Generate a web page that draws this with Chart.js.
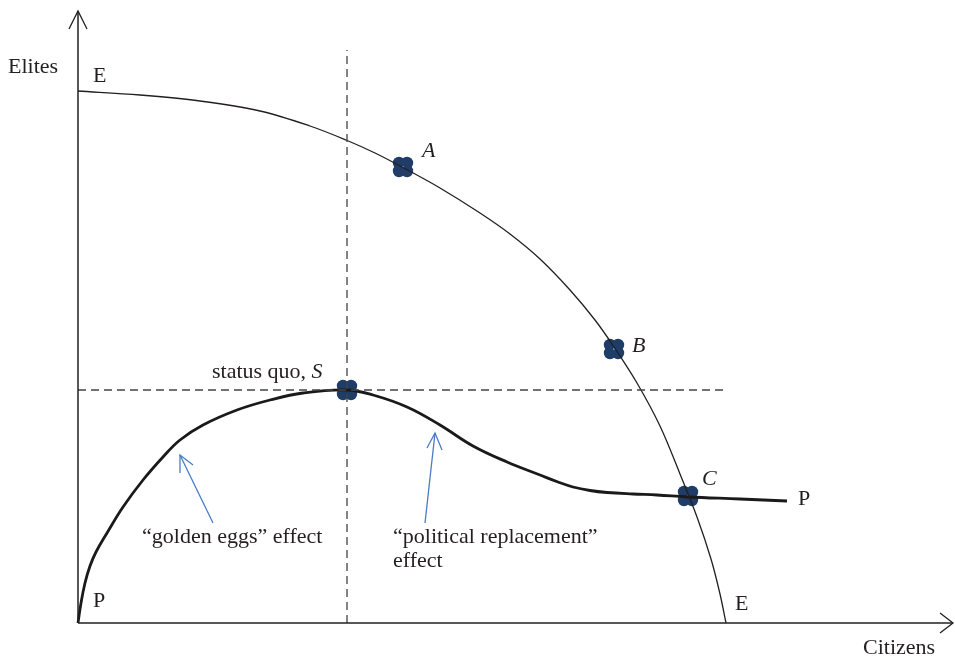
<!DOCTYPE html>
<html>
<head>
<meta charset="utf-8">
<script src="https://cdn.jsdelivr.net/npm/chart.js@4.4.1/dist/chart.umd.min.js"></script>
<style>
  html, body { margin: 0; padding: 0; background: #fff; }
  canvas { display: block; }
</style>
</head>
<body>
<canvas id="chart" width="955" height="656"></canvas>
<script>
// ─── Donnees (unites arbitraires : citoyens en x, elites en y) ───
// Frontiere EE
const frontierX = [0, 62, 122, 182, 232, 268, 297, 324, 362, 402, 432, 462, 492,
                   517, 536, 559, 582, 602, 619, 633, 642, 648];
const frontierY = [532, 528, 522, 512, 497, 483, 470, 456, 435, 410, 389, 364, 333,
                   303, 276, 240, 197, 149, 106, 64, 29, 0];

// Courbe PP (contrainte politique)
const politicalX = [0, 3, 7, 12, 18, 29, 45, 65, 85, 102, 125, 159, 192, 225, 269,
                    295, 329, 362, 395, 429, 462, 480, 495, 512, 529, 555, 579, 610, 662, 709];
const politicalY = [0, 20, 40, 57, 71, 90, 116, 143, 166, 183, 198, 213, 223, 230, 233,
                    228, 216, 198, 177, 161, 148, 141, 136, 132.5, 130.5, 129, 128, 126, 124, 122];

// Points remarquables A, B, C et statu quo S
const pointNames = ['A', 'B', 'C', 'S'];
const pointX = [325, 536, 610, 269];
const pointY = [456, 274, 127, 233];

// Lignes pointillees passant par S
const dashTop = 573;
const dashRight = 649;

// Fleches d'annotation (base -> pointe)
const goldenArrow = { base: [135, 100], tip: [102, 168], head: [[102, 150], [115, 158]] };
const replaceArrow = { base: [347, 100], tip: [357, 190], head: [[349, 175], [364, 173]] };

// Axes
const axisX = 875;
const axisY = 612;

const INK = '#231f20';
const BLUE = '#4a7cc0';
const MARK = '#1f3d66';

// Marqueur en trefle (4 lobes)
function makeClover() {
  const c = document.createElement('canvas');
  c.width = 22; c.height = 22;
  const g = c.getContext('2d');
  g.fillStyle = MARK;
  [[-4, -4], [4, -4], [-4, 4], [4, 4]].forEach(([dx, dy]) => {
    g.beginPath();
    g.arc(11 + dx, 11 + dy, 6.2, 0, Math.PI * 2);
    g.fill();
  });
  g.fillStyle = '#4f86c6';
  g.fillRect(10, 10, 2, 2);
  return c;
}

const toXY = (xs, ys) => xs.map((x, i) => ({ x, y: ys[i] }));
const pt = (p) => ({ x: p[0], y: p[1] });

function line(data, opts) {
  return Object.assign({
    data, showLine: true, pointRadius: 0, borderColor: INK, borderWidth: 1.3,
    fill: false, clip: false, tension: 0,
  }, opts);
}

// Textes (position en unites de donnees, ligne de base)
const textLabels = [
  { x: -70, y: 550, parts: [['Elites', '']] },
  { x: 15, y: 541, parts: [['E', '']] },
  { x: 344, y: 466, parts: [['A', 'italic ']] },
  { x: 554, y: 271, parts: [['B', 'italic ']] },
  { x: 624, y: 138, parts: [['C', 'italic ']] },
  { x: 720, y: 118, parts: [['P', '']] },
  { x: 657, y: 13, parts: [['E', '']] },
  { x: 15, y: 16, parts: [['P', '']] },
  { x: 785, y: -31, parts: [['Citizens', '']] },
  { x: 134, y: 245, parts: [['status quo, ', ''], ['S', 'italic ']] },
  { x: 64, y: 80, parts: [['\u201cgolden eggs\u201d effect', '']] },
  { x: 315, y: 80, parts: [['\u201cpolitical replacement\u201d', '']] },
  { x: 315, y: 56, parts: [['effect', '']] },
];

const textPlugin = {
  id: 'textLabels',
  afterDatasetsDraw(chart) {
    const { ctx, scales: { x, y } } = chart;
    ctx.save();
    ctx.fillStyle = INK;
    ctx.textBaseline = 'alphabetic';
    ctx.textAlign = 'left';
    textLabels.forEach(l => {
      let px = x.getPixelForValue(l.x);
      const py = y.getPixelForValue(l.y);
      l.parts.forEach(([txt, style]) => {
        ctx.font = style + "22px 'Liberation Serif', 'DejaVu Serif', serif";
        ctx.fillText(txt, px, py);
        px += ctx.measureText(txt).width;
      });
    });
    ctx.restore();
  },
};

const clover = makeClover();

new Chart(document.getElementById('chart'), {
  type: 'scatter',
  data: {
    datasets: [
      // axes
      line([{ x: 0, y: 0 }, { x: 0, y: axisY }], { borderWidth: 1.5 }),
      line([{ x: -9, y: axisY - 18 }, { x: 0, y: axisY }, { x: 9, y: axisY - 18 }], { borderWidth: 1.3 }),
      line([{ x: 0, y: 0 }, { x: axisX, y: 0 }], { borderWidth: 1.5 }),
      line([{ x: axisX - 13, y: 10 }, { x: axisX, y: 0 }, { x: axisX - 13, y: -10 }], { borderWidth: 1.3 }),
      // pointilles
      line([{ x: pointX[3], y: 0 }, { x: pointX[3], y: dashTop }], { borderDash: [8, 5], borderColor: '#444' }),
      line([{ x: 0, y: pointY[3] }, { x: dashRight, y: pointY[3] }], { borderDash: [8, 5], borderColor: '#444' }),
      // courbes
      line(toXY(frontierX, frontierY), { tension: 0.35, borderWidth: 1.3 }),
      line(toXY(politicalX, politicalY), { tension: 0.4, borderWidth: 2.8, borderColor: '#1a1a1a' }),
      // fleches bleues
      line([pt(goldenArrow.base), pt(goldenArrow.tip)], { borderColor: BLUE }),
      line([pt(goldenArrow.head[0]), pt(goldenArrow.tip), pt(goldenArrow.head[1])], { borderColor: BLUE }),
      line([pt(replaceArrow.base), pt(replaceArrow.tip)], { borderColor: BLUE }),
      line([pt(replaceArrow.head[0]), pt(replaceArrow.tip), pt(replaceArrow.head[1])], { borderColor: BLUE }),
      // points A B C S
      {
        data: toXY(pointX, pointY),
        pointStyle: clover,
        pointRadius: 11,
        showLine: false,
        clip: false,
      },
    ],
  },
  options: {
    responsive: false,
    animation: false,
    events: [],
    layout: { autoPadding: false, padding: { left: 78, right: 2, top: 0, bottom: 33 } },
    plugins: { legend: { display: false }, tooltip: { enabled: false } },
    scales: {
      x: { type: 'linear', min: 0, max: 875, display: false },
      y: { type: 'linear', min: 0, max: 623, display: false },
    },
  },
  plugins: [textPlugin],
});
</script>
</body>
</html>
